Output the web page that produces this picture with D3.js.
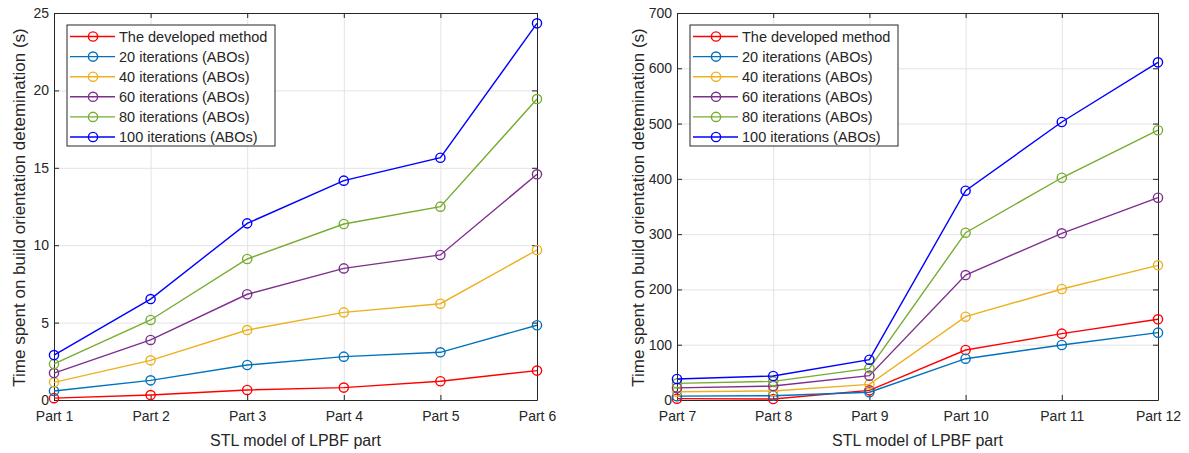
<!DOCTYPE html>
<html>
<head>
<meta charset="utf-8">
<script src="https://cdn.jsdelivr.net/npm/d3@7/dist/d3.min.js"></script>
<style>
  html, body { margin: 0; padding: 0; background: #fff; }
  svg { display: block; font-family: "Liberation Sans", Arial, Helvetica, sans-serif; }
</style>
</head>
<body>
<svg id="chart" width="1189" height="453"></svg>
<script>
// Build-orientation timing: developed method vs. ABO iteration counts
const seriesNames = [
  "The developed method",
  "20 iterations (ABOs)",
  "40 iterations (ABOs)",
  "60 iterations (ABOs)",
  "80 iterations (ABOs)",
  "100 iterations (ABOs)"
];
const seriesColors = ["#ff0000", "#0072bd", "#edb120", "#7e2f8e", "#77ac30", "#0000ff"];

// Parts 1-6
const partsA = ["Part 1", "Part 2", "Part 3", "Part 4", "Part 5", "Part 6"];
const developedA = [0.12, 0.32, 0.65, 0.8, 1.21, 1.9];
const iter20A = [0.58, 1.27, 2.26, 2.8, 3.08, 4.83];
const iter40A = [1.14, 2.56, 4.52, 5.66, 6.22, 9.69];
const iter60A = [1.74, 3.88, 6.83, 8.5, 9.37, 14.58];
const iter80A = [2.33, 5.17, 9.11, 11.37, 12.49, 19.44];
const iter100A = [2.9, 6.52, 11.41, 14.17, 15.65, 24.33];
const yTicksA = [0, 5, 10, 15, 20, 25];

// Parts 7-12
const partsB = ["Part 7", "Part 8", "Part 9", "Part 10", "Part 11", "Part 12"];
const developedB = [2.4, 1.8, 17.5, 90.4, 120, 146];
const iter20B = [7, 7.8, 14, 74.7, 99.5, 121.8];
const iter40B = [15, 16.3, 28.3, 150.7, 200.8, 243.6];
const iter60B = [22, 25.3, 44, 226, 301.5, 365.9];
const iter80B = [30, 33.7, 57.3, 302.6, 402, 488];
const iter100B = [38, 43.4, 72.9, 378.6, 502.8, 610.7];
const yTicksB = [0, 100, 200, 300, 400, 500, 600, 700];

const xLabel = "STL model of LPBF part";
const yLabel = "Time spent on build orientation detemination (s)";

const svg = d3.select("#chart");
const axisColor = "#262626";
const gridColor = "#e3e3e3";

function drawPanel(opts) {
  const { left, right, top, bottom, parts, series, yTicks, yLabelX } = opts;
  const g = svg.append("g");
  const w = right - left, h = bottom - top;

  const x = d3.scalePoint().domain(parts).range([left, right]);
  const y = d3.scaleLinear().domain([yTicks[0], yTicks[yTicks.length - 1]]).range([bottom, top]);

  // grid
  g.append("g")
    .attr("transform", `translate(0,${bottom})`)
    .call(d3.axisBottom(x).tickSize(-h).tickFormat(""))
    .call(s => s.select(".domain").remove())
    .call(s => s.selectAll("line").attr("stroke", gridColor).attr("stroke-width", 1));
  g.append("g")
    .attr("transform", `translate(${left},0)`)
    .call(d3.axisLeft(y).tickValues(yTicks).tickSize(-w).tickFormat(""))
    .call(s => s.select(".domain").remove())
    .call(s => s.selectAll("line").attr("stroke", gridColor).attr("stroke-width", 1));

  // axes with inward ticks on all four sides
  const styleAxis = s => {
    s.select(".domain").attr("stroke", axisColor).attr("stroke-width", 1);
    s.selectAll(".tick line").attr("stroke", axisColor);
    s.selectAll("text").attr("fill", axisColor).style("font-size", "14px")
      .style("font-family", '"Liberation Sans", Arial, sans-serif');
  };
  g.append("g").attr("transform", `translate(0,${bottom})`)
    .call(d3.axisBottom(x).tickSizeInner(-5).tickSizeOuter(0).tickPadding(11))
    .call(styleAxis);
  g.append("g").attr("transform", `translate(0,${top})`)
    .call(d3.axisTop(x).tickSizeInner(-5).tickSizeOuter(0).tickFormat(""))
    .call(styleAxis);
  g.append("g").attr("transform", `translate(${left},0)`)
    .call(d3.axisLeft(y).tickValues(yTicks).tickSizeInner(-5).tickSizeOuter(0).tickPadding(5))
    .call(styleAxis);
  g.append("g").attr("transform", `translate(${right},0)`)
    .call(d3.axisRight(y).tickValues(yTicks).tickSizeInner(-5).tickSizeOuter(0).tickFormat(""))
    .call(styleAxis);

  // series lines and circle markers
  const line = d3.line().x((d, i) => x(parts[i])).y(d => y(d));
  series.forEach((vals, k) => {
    g.append("path").datum(vals)
      .attr("d", line)
      .attr("fill", "none")
      .attr("stroke", seriesColors[k])
      .attr("stroke-width", 1.4);
    g.selectAll(null).data(vals).enter().append("circle")
      .attr("cx", (d, i) => x(parts[i]))
      .attr("cy", d => y(d))
      .attr("r", 4.6)
      .attr("fill", "none")
      .attr("stroke", seriesColors[k])
      .attr("stroke-width", 1.4);
  });

  // axis titles
  g.append("text")
    .attr("x", (left + right) / 2).attr("y", 446)
    .attr("text-anchor", "middle")
    .attr("fill", axisColor)
    .style("font-size", "16px")
    .text(xLabel);
  g.append("text")
    .attr("transform", `translate(${yLabelX},${(top + bottom) / 2 + 1}) rotate(-90)`)
    .attr("text-anchor", "middle")
    .attr("dy", "0.35em")
    .attr("fill", axisColor)
    .style("font-size", "17px")
    .text(yLabel);

  // legend
  const lx = left + 13, ly = top + 12, lw = 208, lh = 121;
  const lg = g.append("g");
  lg.append("rect")
    .attr("x", lx).attr("y", ly).attr("width", lw).attr("height", lh)
    .attr("fill", "#fff").attr("stroke", axisColor).attr("stroke-width", 1);
  seriesNames.forEach((name, k) => {
    const cy = ly + 11.5 + k * 20.1;
    lg.append("line")
      .attr("x1", lx + 3).attr("x2", lx + 48).attr("y1", cy).attr("y2", cy)
      .attr("stroke", seriesColors[k]).attr("stroke-width", 1.4);
    lg.append("circle")
      .attr("cx", lx + 26).attr("cy", cy).attr("r", 4.6)
      .attr("fill", "none").attr("stroke", seriesColors[k]).attr("stroke-width", 1.4);
    lg.append("text")
      .attr("x", lx + 52).attr("y", cy).attr("dy", "0.35em")
      .attr("fill", axisColor)
      .style("font-size", "14.5px")
      .text(name);
  });
}

drawPanel({
  left: 54, right: 537, top: 13, bottom: 400,
  parts: partsA,
  series: [developedA, iter20A, iter40A, iter60A, iter80A, iter100A],
  yTicks: yTicksA, yLabelX: 19
});
drawPanel({
  left: 677, right: 1158, top: 13, bottom: 400,
  parts: partsB,
  series: [developedB, iter20B, iter40B, iter60B, iter80B, iter100B],
  yTicks: yTicksB, yLabelX: 638
});
</script>
</body>
</html>
